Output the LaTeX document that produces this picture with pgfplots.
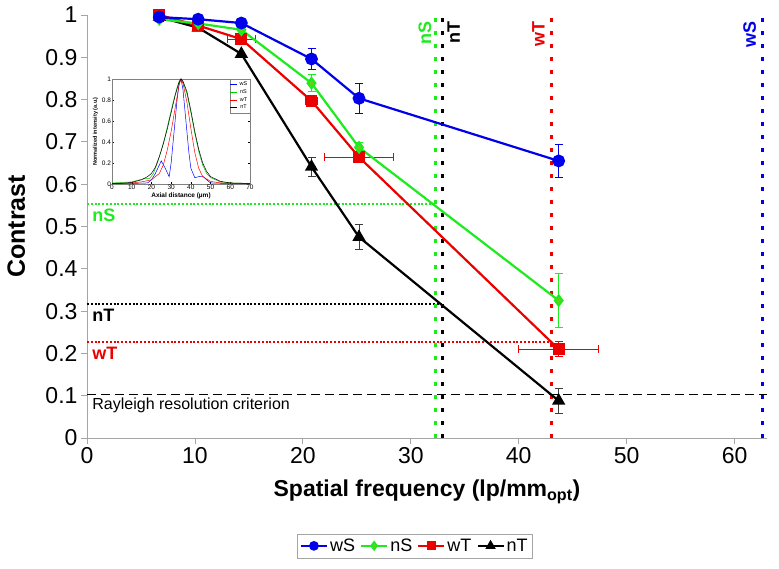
\documentclass[border=0pt]{standalone}
\usepackage{fontspec}
\setmainfont{Liberation Sans}
\usepackage{pgfplots}
\usepackage{pgfplotstable}
\pgfplotsset{compat=1.18}

\definecolor{cblue}{RGB}{0,0,235}
\definecolor{cgreen}{RGB}{30,235,30}
\definecolor{cdiam}{RGB}{110,205,20}
\definecolor{cred}{RGB}{235,0,0}
\definecolor{axgray}{RGB}{165,165,165}
\definecolor{errgray}{RGB}{60,60,60}

% contrast vs spatial frequency: x, y, x error, y error
\pgfplotstableread{
x y ex ey
6.7 0.995 0 0
10.3 0.990 0 0
14.3 0.981 0 0
20.8 0.896 0 0.025
25.2 0.803 0 0.036
43.7 0.655 0 0.040
}\wS
\pgfplotstableread{
x y ex ey
6.7 0.990 0 0
10.3 0.980 0 0
14.3 0.965 0 0
20.8 0.839 0 0.020
25.2 0.687 0 0.012
43.7 0.325 0 0.064
}\nS
\pgfplotstableread{
x y ex ey
6.7 1.000 0 0
10.3 0.975 0 0
14.3 0.943 1.3 0
20.8 0.797 0.55 0.010
25.2 0.664 3.2 0
43.7 0.210 3.7 0.018
}\wT
\pgfplotstableread{
x y ex ey
6.7 0.995 0 0
10.3 0.970 0 0
14.3 0.908 0 0
20.8 0.641 0 0.022
25.2 0.475 0 0.030
43.7 0.088 0 0.030
}\nT

\begin{document}
\begin{tikzpicture}
\useasboundingbox (-87pt,-131pt) rectangle (692pt,438pt);
\begin{axis}[
  scale only axis,
  width=680pt, height=423pt,
  xmin=0, xmax=63, ymin=0, ymax=1,
  axis x line*=bottom, axis y line*=left,
  axis line style={draw=axgray, line width=0.8pt, -},
  xtick={0,10,20,30,40,50,60},
  ytick={0,0.1,0.2,0.3,0.4,0.5,0.6,0.7,0.8,0.9,1},
  tick align=outside, major tick length=6pt,
  tick style={draw=axgray, line width=0.8pt},
  ticklabel style={font=\fontsize{23}{27}\selectfont},
  /pgf/number format/assume math mode=true,
  yticklabel style={/pgf/number format/fixed, /pgf/number format/precision=1},
  xlabel={\textbf{Spatial frequency (lp/mm\textsubscript{opt})}},
  ylabel={\textbf{Contrast}},
  xlabel style={font=\fontsize{23}{27}\selectfont, at={(axis description cs:0.5,-0.128)}, anchor=center},
  ylabel style={font=\fontsize{25}{29}\selectfont, at={(axis description cs:-0.104,0.5)}, anchor=center},
  clip=false,
  legend columns=4,
  reverse legend,
  legend style={at={(axis description cs:0.482,-0.255)}, anchor=center,
    draw=axgray, font=\fontsize{18}{20}\selectfont, inner sep=3pt,
    /tikz/every even column/.append style={column sep=3pt}},
  legend image code/.code={\draw[mark repeat=2,mark phase=2,#1,
    /tikz/every mark/.append style={scale=0.7}]
    plot coordinates {(0pt,0pt) (13pt,0pt) (26pt,0pt)};},
]
% reference lines
\addplot[forget plot, cgreen, line width=2pt, dash pattern=on 2pt off 1.8pt] coordinates {(0,0.553) (32.3,0.553)};
\addplot[forget plot, black, line width=2pt, dash pattern=on 2pt off 1.8pt] coordinates {(0,0.317) (32.9,0.317)};
\addplot[forget plot, cred, line width=2pt, dash pattern=on 2pt off 1.8pt] coordinates {(0,0.227) (43.0,0.227)};
\addplot[forget plot, black, line width=1pt, dash pattern=on 9pt off 5pt] coordinates {(0,0.104) (63,0.104)};
\addplot[forget plot, cgreen, line width=3pt, dash pattern=on 4pt off 9pt] coordinates {(32.3,0) (32.3,1)};
\addplot[forget plot, black, line width=3pt, dash pattern=on 4pt off 9pt] coordinates {(32.9,0) (32.9,1)};
\addplot[forget plot, cred, line width=3pt, dash pattern=on 4pt off 9pt] coordinates {(43.0,0) (43.0,1)};
\addplot[forget plot, cblue, line width=3pt, dash pattern=on 4pt off 9pt] coordinates {(62.55,0) (62.55,1)};

% series, drawn back to front
\addplot[black, line width=2.2pt, mark=triangle*, mark size=5.5pt,
  mark options={fill=black, solid},
  error bars/.cd, y dir=both, y explicit,
  error bar style={errgray, line width=0.9pt},
  error mark options={rotate=90, errgray, mark size=4pt, line width=0.9pt}]
  table[x=x, y=y, y error=ey] {\nT};
\addlegendentry{nT}
\addplot[cred, line width=2.2pt, mark=square*, mark size=4.8pt,
  mark options={fill=cred, solid},
  error bars/.cd, y dir=both, y explicit, x dir=both, x explicit,
  error bar style={cred, line width=0.9pt},
  error mark options={rotate=90, cred, mark size=4pt, line width=0.9pt}]
  table[x=x, y=y, x error=ex, y error=ey] {\wT};
\addlegendentry{wT}
\addplot[cgreen, line width=2.2pt, mark=diamond*, mark size=5pt,
  mark options={fill=cdiam, draw=cgreen, solid},
  error bars/.cd, y dir=both, y explicit,
  error bar style={cgreen, line width=0.9pt},
  error mark options={rotate=90, cgreen, mark size=4pt, line width=0.9pt}]
  table[x=x, y=y, y error=ey] {\nS};
\addlegendentry{nS}
\addplot[cblue, line width=2.2pt, mark=*, mark size=5.3pt,
  mark options={fill=cblue, solid},
  error bars/.cd, y dir=both, y explicit,
  error bar style={cblue, line width=0.9pt},
  error mark options={rotate=90, cblue, mark size=4pt, line width=0.9pt}]
  table[x=x, y=y, y error=ey] {\wS};
\addlegendentry{wS}

% labels of the reference lines
\node[anchor=north west, text=cgreen, font=\fontsize{18}{20}\selectfont\bfseries, inner sep=2pt] at (axis cs:0.3,0.547) {nS};
\node[anchor=north west, text=black, font=\fontsize{18}{20}\selectfont\bfseries, inner sep=2pt] at (axis cs:0.3,0.311) {nT};
\node[anchor=north west, text=cred, font=\fontsize{18}{20}\selectfont\bfseries, inner sep=2pt] at (axis cs:0.3,0.221) {wT};
\node[anchor=north west, font=\fontsize{16}{18}\selectfont, inner sep=2pt] at (axis cs:0.3,0.099) {Rayleigh resolution criterion};
\node[rotate=90, anchor=south east, text=cgreen, font=\fontsize{18}{20}\selectfont\bfseries, inner sep=2pt] at (axis cs:32.1,0.99) {nS};
\node[rotate=90, anchor=north east, text=black, font=\fontsize{18}{20}\selectfont\bfseries, inner sep=2pt] at (axis cs:33.2,0.99) {nT};
\node[rotate=90, anchor=south east, text=cred, font=\fontsize{18}{20}\selectfont\bfseries, inner sep=2pt] at (axis cs:42.6,0.99) {wT};
\node[rotate=90, anchor=south east, text=cblue, font=\fontsize{18}{20}\selectfont\bfseries, inner sep=2pt] at (axis cs:62.2,0.99) {wS};
\end{axis}

% inset: axial intensity profiles
\begin{axis}[
  at={(25pt,254pt)}, anchor=south west,
  scale only axis, width=138pt, height=105pt,
  xmin=0, xmax=70, ymin=0, ymax=1,
  xtick={0,10,20,30,40,50,60,70},
  ytick={0,0.2,0.4,0.6,0.8,1},
  tick align=inside, major tick length=1.5pt,
  tick style={line width=0.3pt, black},
  axis line style={line width=0.4pt, draw=gray},
  axis background/.style={fill=white},
  ticklabel style={font=\fontsize{6.5}{7}\selectfont, inner sep=0.8pt},
  /pgf/number format/assume math mode=true,
  xlabel={\textbf{Axial distance (µm)}},
  ylabel={\textbf{Normalized intensity (a.u.)}},
  xlabel style={font=\fontsize{6.5}{7}\selectfont, at={(axis description cs:0.5,-0.085)}, anchor=north, inner sep=0pt},
  ylabel style={font=\fontsize{5.5}{6}\selectfont, at={(axis description cs:-0.1,0.5)}, anchor=south, inner sep=0pt},
  legend style={at={(1,1)}, anchor=north east, font=\fontsize{5.5}{6}\selectfont,
    inner sep=0.5pt, row sep=-1.5pt, draw=gray, line width=0.3pt},
  legend image code/.code={\draw[#1] (0pt,0pt) -- (7pt,0pt);},
]
\addplot[blue, line width=0.5pt] coordinates {
  (0,0.005) (10,0.005) (18,0.01) (20,0.04) (22,0.1) (25,0.22) (27,0.15)
  (29,0.07) (30,0.2) (31,0.4) (32,0.6) (33,0.8) (34,0.95) (35,1) (36,0.9)
  (37,0.7) (38,0.5) (39,0.3) (40,0.15) (42,0.06) (44,0.07) (46,0.075)
  (48,0.04) (50,0.01) (60,0.004) (70,0.002)};
\addlegendentry{wS}
\addplot[green!80!black, line width=0.5pt] coordinates {
  (0,0.01) (10,0.02) (15,0.045) (17,0.055) (19,0.05) (21,0.1) (23,0.2)
  (25,0.32) (27,0.46) (29,0.62) (31,0.78) (33,0.92) (34.5,1) (36,0.97)
  (38,0.86) (40,0.68) (42,0.48) (44,0.31) (46,0.18) (48,0.1) (50,0.06)
  (55,0.02) (60,0.01) (70,0.005)};
\addlegendentry{nS}
\addplot[red, line width=0.5pt] coordinates {
  (0,0.005) (10,0.01) (15,0.02) (20,0.04) (24,0.1) (26,0.18) (28,0.32)
  (30,0.5) (32,0.72) (34,0.94) (35,1) (36,0.96) (38,0.78) (40,0.53)
  (42,0.3) (44,0.15) (46,0.07) (50,0.025) (55,0.01) (70,0.003)};
\addlegendentry{wT}
\addplot[black, line width=0.5pt] coordinates {
  (0,0.005) (5,0.007) (10,0.015) (15,0.04) (18,0.07) (20,0.1) (22,0.16)
  (24,0.26) (26,0.38) (28,0.52) (30,0.68) (32,0.84) (34,0.97) (35,1)
  (36,0.98) (38,0.88) (40,0.7) (42,0.5) (44,0.33) (46,0.2) (48,0.12)
  (50,0.07) (55,0.025) (60,0.01) (70,0.005)};
\addlegendentry{nT}
\end{axis}
\end{tikzpicture}
\end{document}
